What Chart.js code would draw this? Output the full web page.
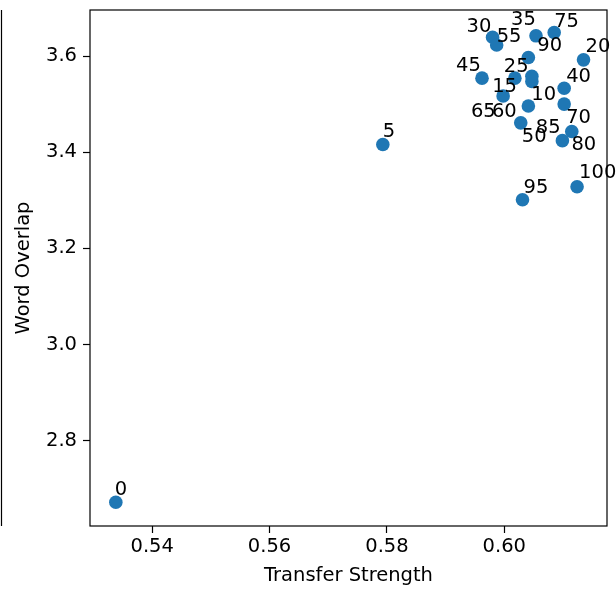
<!DOCTYPE html>
<html>
<head>
<meta charset="utf-8">
<script src="https://cdn.jsdelivr.net/npm/chart.js@4.4.0/dist/chart.umd.min.js"></script>
<style>
  body { margin: 0; background: #fff; }
  #wrap { width: 616px; height: 591px; }
</style>
</head>
<body>
<div id="wrap"><canvas id="chart" width="616" height="591"></canvas></div>
<script>
// weight labels, transfer strength (x) and word overlap (y)
const weights = ['0','5','10','15','20','25','30','35','40','45','50','55','60','65','70','75','80','85','90','95','100'];
const transfer = [0.5338, 0.5793, 0.6041, 0.5998, 0.6135, 0.6018, 0.5980, 0.6054, 0.6102, 0.5962, 0.6028,
                  0.5987, 0.6047, 0.6047, 0.6102, 0.6085, 0.6099, 0.6115, 0.6041, 0.6031, 0.6124];
const overlap = [2.672, 3.416, 3.496, 3.517, 3.592, 3.554, 3.639, 3.642, 3.533, 3.554, 3.461,
                 3.623, 3.547, 3.558, 3.500, 3.649, 3.424, 3.443, 3.597, 3.301, 3.328];
const xTicks = [0.54, 0.56, 0.58, 0.60];
const yTicks = [2.8, 3.0, 3.2, 3.4, 3.6];

// where each annotation sits relative to its point (px)
const labelShift = [[0,-7],[1,-7],[4,-6],[-10,-4],[3,-8],[-10,-6],[-25,-5],[-24,-11],[3,-6],[-25,-7],[2,19],
                    [1,-3],[-39,35],[-60,41],[3,19],[1,-5],[10,9],[-35,1],[10,-6],[2,-7],[3,-9]];

const FONT = 'DejaVu Sans';
const FS = 19.5;

const frame = {
  id: 'frame',
  afterDraw(chart) {
    const c = chart.ctx, a = chart.chartArea;
    c.save();
    c.strokeStyle = '#000';
    c.lineWidth = 1.2;
    c.strokeRect(a.left, a.top, a.right - a.left, a.bottom - a.top);
    // edge of the neighbouring panel
    c.beginPath();
    c.moveTo(1.5, a.top);
    c.lineTo(1.5, a.bottom);
    c.stroke();

    // point annotations
    const meta = chart.getDatasetMeta(0);
    c.fillStyle = '#000';
    c.font = FS + 'px "' + FONT + '"';
    c.textAlign = 'left';
    c.textBaseline = 'alphabetic';
    meta.data.forEach(function(pt, i) {
      c.fillText(weights[i], pt.x + labelShift[i][0] - 1, pt.y + labelShift[i][1]);
    });
    c.restore();
  }
};

new Chart(document.getElementById('chart'), {
  type: 'scatter',
  data: {
    datasets: [{
      data: transfer.map(function(v, i) { return { x: v, y: overlap[i] }; }),
      backgroundColor: '#1f77b4',
      borderWidth: 0,
      pointRadius: 6.8,
      pointHoverRadius: 6.8
    }]
  },
  options: {
    responsive: false,
    animation: false,
    layout: { padding: { left: 0, right: 9, top: 10, bottom: 0 } },
    plugins: { legend: { display: false }, tooltip: { enabled: false } },
    scales: {
      x: {
        type: 'linear',
        min: 0.5294,
        max: 0.6175,
        afterBuildTicks(s) { s.ticks = xTicks.map(function(v) { return { value: v }; }); },
        afterFit(s) { s.height = 65; s.paddingLeft = 0; s.paddingRight = 0; },
        grid: { drawOnChartArea: false, drawTicks: true, tickLength: 7, color: '#000', tickWidth: 1.2 },
        border: { display: false },
        ticks: {
          color: '#000', padding: 2,
          font: { family: FONT, size: FS },
          callback(v) { return v.toFixed(2); }
        },
        title: {
          display: true, text: 'Transfer Strength', color: '#000',
          font: { family: FONT, size: FS }, padding: { top: 0, bottom: 3 }
        }
      },
      y: {
        type: 'linear',
        min: 2.6226,
        max: 3.6957,
        afterBuildTicks(s) { s.ticks = yTicks.map(function(v) { return { value: v }; }); },
        afterFit(s) { s.width = 90; s.paddingTop = 0; s.paddingBottom = 0; },
        grid: { drawOnChartArea: false, drawTicks: true, tickLength: 7, color: '#000', tickWidth: 1.2 },
        border: { display: false },
        ticks: {
          color: '#000', padding: 6,
          font: { family: FONT, size: FS },
          callback(v) { return v.toFixed(1); }
        },
        title: {
          display: true, text: 'Word Overlap', color: '#000',
          font: { family: FONT, size: FS }, padding: { top: 12, bottom: 0 }
        }
      }
    }
  },
  plugins: [frame]
});
</script>
</body>
</html>
